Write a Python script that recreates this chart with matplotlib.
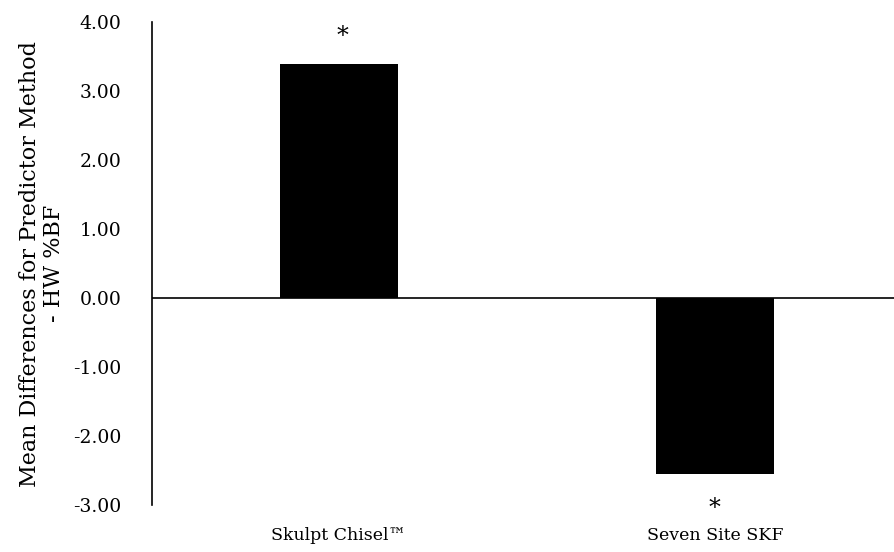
import matplotlib.pyplot as plt

categories = ["Skulpt Chisel™", "Seven Site SKF"]
mean_diffs = [3.39, -2.55]
sig_marks = ["*", "*"]
y_ticks = [4, 3, 2, 1, 0, -1, -2, -3]

plt.rcParams['font.family'] = ['DejaVu Serif']

fig = plt.figure(figsize=(8.94, 5.52), dpi=100)
ax = fig.add_axes([0.170, 0.085, 0.83, 0.875])

x = range(len(categories))
ax.bar(x, mean_diffs, width=0.315, color='black', zorder=2)
ax.axhline(0, color='black', linewidth=1.2, zorder=3)

# significance stars above/below the bars
for xi, v, m in zip(x, mean_diffs, sig_marks):
    if v >= 0:
        ax.text(xi + 0.01, v + 0.40, m, ha='center', va='center', fontsize=17)
    else:
        ax.text(xi, v - 0.50, m, ha='center', va='center', fontsize=17)

ax.set_xlim(-0.497, 1.476)
ax.set_ylim(-3, 4)
ax.set_yticks(y_ticks)
ax.set_yticklabels([f"{t:.2f}" for t in y_ticks], fontsize=13.5)
ax.set_xticks(list(x))
ax.set_xticklabels(categories, fontsize=12.5)
ax.tick_params(axis='both', length=0)
ax.tick_params(axis='y', pad=22)
ax.tick_params(axis='x', pad=16)

for s in ['top', 'right', 'bottom']:
    ax.spines[s].set_visible(False)
ax.spines['left'].set_linewidth(1.2)

ax.set_ylabel("Mean Differences for Predictor Method\n- HW %BF", fontsize=16, labelpad=6,
              linespacing=1.1)

fig.savefig("out.png", dpi=100)
